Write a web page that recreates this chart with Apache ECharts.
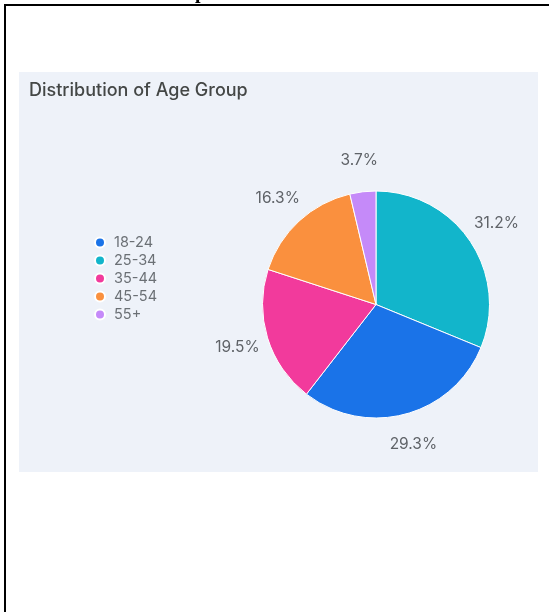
<!DOCTYPE html>
<html>
<head>
<meta charset="utf-8">
<script src="https://cdn.jsdelivr.net/npm/echarts@6/dist/echarts.min.js"></script>
<style>
html,body{margin:0;padding:0;background:#fff;}
#chart{width:549px;height:612px;}
</style>
</head>
<body>
<div id="chart"></div>
<script>
// Slices in clockwise order starting at 12 o'clock
const categories = ['25-34', '18-24', '35-44', '45-54', '55+'];
const values = [31.2, 29.3, 19.5, 16.3, 3.7];
const legendOrder = ['18-24', '25-34', '35-44', '45-54', '55+'];
const colorMap = {
  '18-24': '#1A73E8',
  '25-34': '#12B5CB',
  '35-44': '#F23A9C',
  '45-54': '#FA903E',
  '55+': '#C58AF9'
};
const titleText = 'Distribution of Age Group';

const chart = echarts.init(document.getElementById('chart'), null, {renderer: 'canvas'});
const pieData = categories.map((c, i) => ({name: c, value: values[i], itemStyle: {color: colorMap[c]}}));
const labelData = categories.map((c, i) => ({name: c, value: values[i]}));

const CX = 376, CY = 304.5, R = 113.5;
const FONT = 'Inter';

chart.setOption({
  animation: false,
  backgroundColor: '#ffffff',
  title: {
    text: titleText,
    left: 29, top: 82, padding: 0,
    textStyle: {fontFamily: FONT, fontSize: 18, fontWeight: 500, color: '#444746'}
  },
  legend: {
    orient: 'vertical',
    left: 89, top: 230,
    data: legendOrder,
    icon: 'circle',
    itemWidth: 18, itemHeight: 10,
    itemGap: 3,
    selectedMode: false,
    textStyle: {fontFamily: FONT, fontSize: 14.5, color: '#6b7075', lineHeight: 13}
  },
  graphic: [
    {type: 'rect', z: -10, silent: true, shape: {x: 19, y: 72, width: 519, height: 400}, style: {fill: '#EEF2F9'}},
    {type: 'line', silent: true, shape: {x1: 4, y1: 5, x2: 549, y2: 5}, style: {stroke: '#000', lineWidth: 2}},
    {type: 'line', silent: true, shape: {x1: 5, y1: 4, x2: 5, y2: 612}, style: {stroke: '#000', lineWidth: 2}},
    {type: 'text', silent: true, x: 195, y: 3, style: {text: 'p', font: 'bold 20px "Liberation Serif"', fill: '#000', verticalAlign: 'bottom'}}
  ],
  series: [
    {
      type: 'pie',
      center: [CX, CY],
      radius: R,
      startAngle: 90,
      clockwise: true,
      silent: true,
      label: {show: false},
      labelLine: {show: false},
      itemStyle: {borderColor: '#ffffff', borderWidth: 1},
      emphasis: {disabled: true},
      data: pieData
    },
    {
      type: 'pie',
      center: [CX, CY],
      radius: [0, 284],
      startAngle: 90,
      clockwise: true,
      silent: true,
      z: 5,
      itemStyle: {color: 'transparent', borderWidth: 0},
      label: {show: true, position: 'inside', formatter: '{c}%', fontFamily: FONT, fontSize: 15.5, color: '#5f6368', padding: [5, 0, 0, 0]},
      labelLine: {show: false},
      emphasis: {disabled: true},
      data: labelData
    }
  ]
});
</script>
</body>
</html>
